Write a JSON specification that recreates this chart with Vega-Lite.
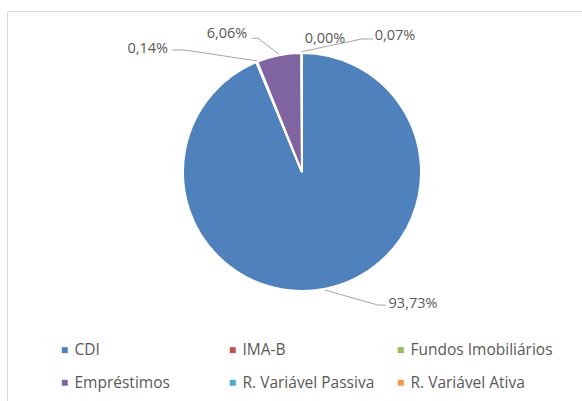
{
  "$schema": "https://vega.github.io/schema/vega-lite/v6.json",
  "autosize": "none",
  "width": 590,
  "height": 400,
  "padding": {"left": 7, "top": 11, "right": 0, "bottom": 0},
  "background": "white",
  "config": {
    "view": {"stroke": "#d9d9d9", "strokeWidth": 1},
    "font": "Open Sans"
  },
  "datasets": {
    "slices": [
      {"category": "CDI", "value": 93.73, "ord": 1},
      {"category": "IMA-B", "value": 0.14, "ord": 2},
      {"category": "Fundos Imobiliários", "value": 0, "ord": 3},
      {"category": "Empréstimos", "value": 6.06, "ord": 4},
      {"category": "R. Variável Passiva", "value": 0.0, "ord": 5},
      {"category": "R. Variável Ativa", "value": 0.07, "ord": 6}
    ],
    "labels": [
      {"text": "0,14%", "lx": -129.6, "ly": 99.7},
      {"text": "6,06%", "lx": -63.0, "ly": 112.4},
      {"text": "0,00%", "lx": 19.3, "ly": 108.2},
      {"text": "0,07%", "lx": 78.2, "ly": 110.9},
      {"text": "93,73%", "lx": 93.3, "ly": -114.3}
    ],
    "leaders": [
      {"lab": "IMA-B", "k": 1, "lx": -109.5, "ly": 102.5},
      {"lab": "IMA-B", "k": 2, "lx": -98.3, "ly": 102.5},
      {"lab": "IMA-B", "k": 3, "lx": -38.0, "ly": 93.4},
      {"lab": "Emp", "k": 1, "lx": -42.3, "ly": 112.4},
      {"lab": "Emp", "k": 2, "lx": -37.0, "ly": 112.4},
      {"lab": "Emp", "k": 3, "lx": -19.3, "ly": 99.0},
      {"lab": "RVA", "k": 1, "lx": -0.3, "ly": 101.1},
      {"lab": "RVA", "k": 2, "lx": 50.2, "ly": 111.8},
      {"lab": "RVA", "k": 3, "lx": 59.7, "ly": 111.8},
      {"lab": "CDI", "k": 1, "lx": 19.3, "ly": -99.2},
      {"lab": "CDI", "k": 2, "lx": 63.9, "ly": -111.8},
      {"lab": "CDI", "k": 3, "lx": 70.6, "ly": -111.8}
    ]
  },
  "layer": [
    {
      "data": {"name": "slices"},
      "mark": {"type": "arc", "radius": 119, "stroke": "white", "strokeWidth": 2},
      "encoding": {
        "x": {"datum": 0, "type": "quantitative", "scale": {"domain": [-247.9, 247.9], "nice": false, "zero": false}, "axis": null},
        "y": {"datum": 0, "type": "quantitative", "scale": {"domain": [-200.8, 135.3], "nice": false, "zero": false}, "axis": null},
        "theta": {"field": "value", "type": "quantitative", "stack": true},
        "order": {"field": "ord", "type": "quantitative"},
        "color": {
          "field": "category",
          "type": "nominal",
          "scale": {
            "domain": ["CDI", "IMA-B", "Fundos Imobiliários", "Empréstimos", "R. Variável Passiva", "R. Variável Ativa"],
            "range": ["#4F81BD", "#C0504D", "#9BBB59", "#8064A2", "#4BACC6", "#F79646"]
          },
          "legend": {
            "title": null,
            "orient": "none",
            "legendX": 50,
            "legendY": 331,
            "direction": "horizontal",
            "columns": 3,
            "gridAlign": "all",
            "columnPadding": 8,
            "rowPadding": 16,
            "padding": 0,
            "symbolType": "square",
            "symbolSize": 36,
            "symbolStrokeWidth": 0,
            "labelFont": "Open Sans",
            "labelFontSize": 15.5,
            "labelColor": "#595959",
            "labelOffset": 2,
            "labelLimit": 300
          }
        }
      }
    },
    {
      "data": {"name": "leaders"},
      "mark": {"type": "line", "color": "#a6a6a6", "strokeWidth": 1},
      "encoding": {
        "x": {"field": "lx", "type": "quantitative"},
        "y": {"field": "ly", "type": "quantitative"},
        "detail": {"field": "lab"},
        "order": {"field": "k", "type": "quantitative"}
      }
    },
    {
      "data": {"name": "labels"},
      "mark": {"type": "text", "font": "Open Sans", "fontSize": 14.5, "color": "#595959", "align": "center", "baseline": "alphabetic"},
      "encoding": {
        "x": {"field": "lx", "type": "quantitative"},
        "y": {"field": "ly", "type": "quantitative"},
        "text": {"field": "text"}
      }
    }
  ]
}
